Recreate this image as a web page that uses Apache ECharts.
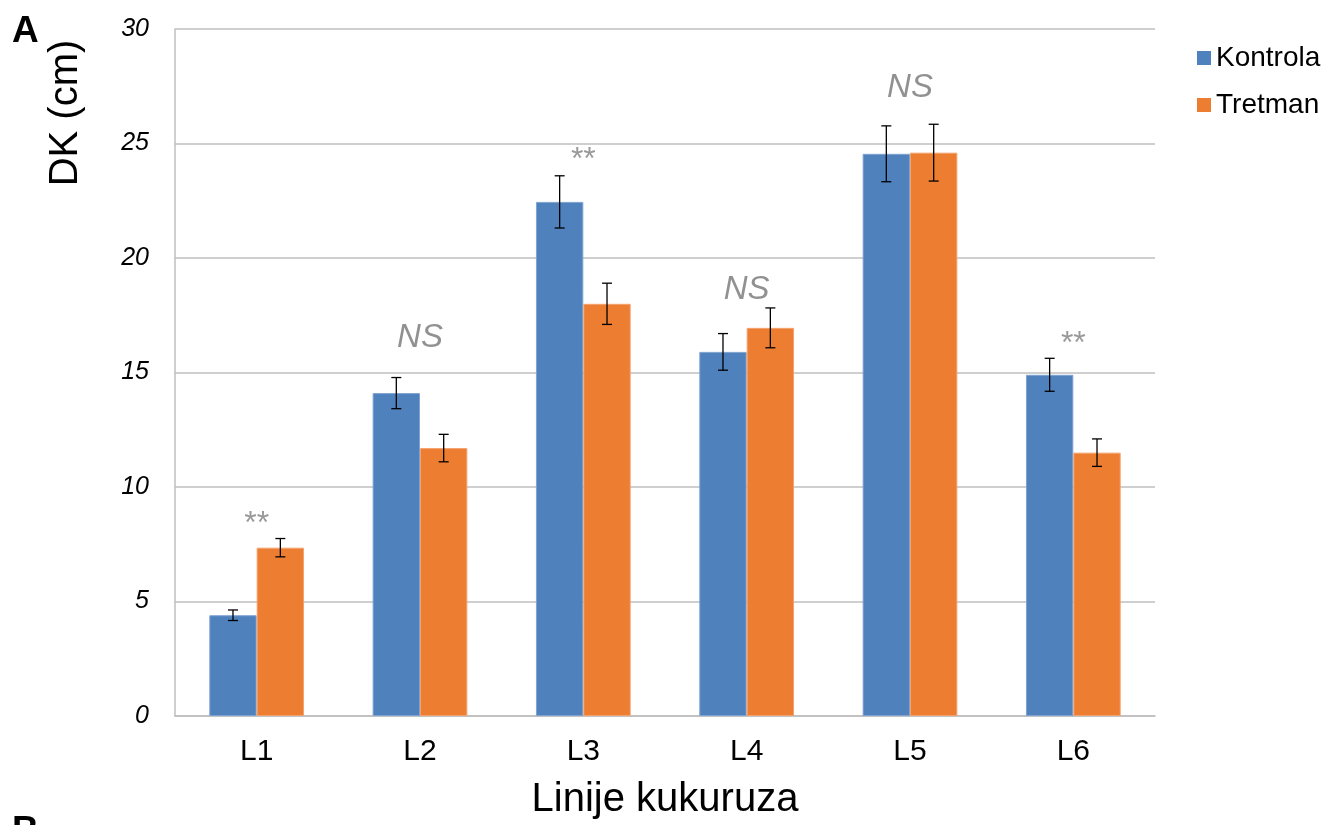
<!DOCTYPE html>
<html>
<head>
<meta charset="utf-8">
<script src="https://cdn.jsdelivr.net/npm/echarts@6/dist/echarts.min.js"></script>
<style>
  html, body { margin: 0; padding: 0; background: #fff; }
  #chart { width: 1338px; height: 825px; }
</style>
</head>
<body>
<div id="chart"></div>
<script>
// Maize lines and measured DK (cm) per treatment
var categories = ['L1', 'L2', 'L3', 'L4', 'L5', 'L6'];
var kontrola = [4.4, 14.1, 22.45, 15.9, 24.55, 14.9];
var kontrolaErr = [0.23, 0.68, 1.14, 0.8, 1.22, 0.72];
var tretman = [7.35, 11.7, 18.0, 16.95, 24.6, 11.5];
var tretmanErr = [0.4, 0.6, 0.9, 0.87, 1.24, 0.6];
// Significance marks above each pair and the level they sit at
var sigMarks = ['**', 'NS', '**', 'NS', 'NS', '**'];
var sigLevel = [8.38, 16.5, 24.28, 18.6, 27.45, 16.24];
var yTicks = [0, 5, 10, 15, 20, 25, 30];

var CAT_GAP = 0.42;
var FONT = 'Liberation Sans, Arial, sans-serif';

function errorSeries(name, values, errs, seriesIndex) {
  var data = values.map(function (v, i) { return [i, v - errs[i], v + errs[i]]; });
  return {
    type: 'custom',
    name: name + ' err',
    z: 10,
    silent: true,
    renderItem: function (params, api) {
      var i = api.value(0);
      var low = api.coord([i, api.value(1)]);
      var high = api.coord([i, api.value(2)]);
      var size = api.size([1, 0]);
      var groupW = size[0] * (1 - CAT_GAP);
      var barW = groupW / 2;
      var x = low[0] - groupW / 2 + barW * seriesIndex + barW / 2;
      var cap = 5;
      var style = { stroke: '#000', lineWidth: 1.3 };
      return {
        type: 'group',
        children: [
          { type: 'line', shape: { x1: x, y1: high[1], x2: x, y2: low[1] }, style: style },
          { type: 'line', shape: { x1: x - cap, y1: high[1], x2: x + cap, y2: high[1] }, style: style },
          { type: 'line', shape: { x1: x - cap, y1: low[1], x2: x + cap, y2: low[1] }, style: style }
        ]
      };
    },
    encode: { x: 0, y: [1, 2] },
    data: data
  };
}

var chart = echarts.init(document.getElementById('chart'), null, { renderer: 'canvas' });

chart.setOption({
  animation: false,
  textStyle: { fontFamily: FONT },
  grid: { left: 175, right: 183, top: 29, bottom: 109 },
  legend: {
    orient: 'vertical',
    left: 1197,
    top: 44,
    padding: 0,
    itemWidth: 14,
    itemHeight: 14,
    itemGap: 19,
    icon: 'rect',
    itemStyle: { borderWidth: 0 },
    textStyle: { fontSize: 28, color: '#000', fontFamily: FONT },
    data: ['Kontrola', 'Tretman']
  },
  xAxis: {
    type: 'category',
    data: categories,
    name: 'Linije kukuruza',
    nameLocation: 'middle',
    nameGap: 64,
    nameTextStyle: { fontSize: 40, color: '#000' },
    axisLine: { show: true, lineStyle: { color: '#bfbfbf', width: 1.5 } },
    axisTick: { show: false },
    axisLabel: { fontSize: 30, color: '#000', margin: 21 }
  },
  yAxis: {
    type: 'value',
    min: yTicks[0],
    max: yTicks[yTicks.length - 1],
    interval: 5,
    axisLine: { show: true, lineStyle: { color: '#bfbfbf', width: 1.5 } },
    axisTick: { show: false },
    axisLabel: { fontSize: 25, color: '#000', fontStyle: 'italic', margin: 26 },
    splitLine: { lineStyle: { color: '#bfbfbf', width: 1.5 } }
  },
  series: [
    {
      name: 'Kontrola',
      type: 'bar',
      data: kontrola,
      barGap: '0%',
      barCategoryGap: (CAT_GAP * 100) + '%',
      itemStyle: { color: '#4f81bd', borderColor: '#7fa3d0', borderWidth: 1 }
    },
    {
      name: 'Tretman',
      type: 'bar',
      data: tretman,
      barGap: '0%',
      barCategoryGap: (CAT_GAP * 100) + '%',
      itemStyle: { color: '#ed7d31', borderColor: '#f3a370', borderWidth: 1 }
    },
    errorSeries('Kontrola', kontrola, kontrolaErr, 0),
    errorSeries('Tretman', tretman, tretmanErr, 1),
    {
      type: 'scatter',
      name: 'sig',
      symbolSize: 1,
      itemStyle: { color: 'rgba(0,0,0,0)' },
      silent: true,
      data: sigLevel.map(function (v, i) {
        var ns = sigMarks[i] === 'NS';
        return {
          value: [i, v],
          label: ns
            ? { fontSize: 33, fontStyle: 'italic', color: '#767676' }
            : { fontSize: 32, fontStyle: 'normal', color: '#808080' }
        };
      }),
      label: {
        show: true,
        position: 'inside',
        formatter: function (p) { return sigMarks[p.dataIndex]; }
      }
    }
  ],
  graphic: [
    { type: 'text', x: 12, y: 32, style: { text: 'A', fontSize: 37, fontWeight: 'bold', fill: '#000', font: 'bold 37px ' + FONT, verticalAlign: 'middle' } },
    { type: 'text', x: 12, y: 832, style: { text: 'B', fontSize: 37, fontWeight: 'bold', fill: '#000', font: 'bold 37px ' + FONT, verticalAlign: 'middle' } },
    { type: 'text', x: 66, y: 113, rotation: Math.PI / 2, style: { text: 'DK (cm)', font: '40px ' + FONT, fill: '#000', align: 'center', verticalAlign: 'middle' } }
  ]
});
</script>
</body>
</html>
